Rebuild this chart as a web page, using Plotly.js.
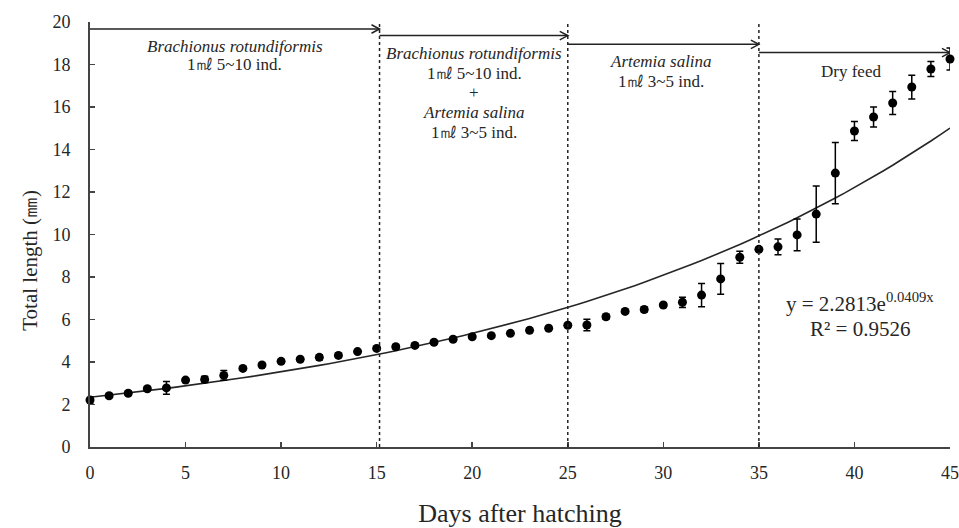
<!DOCTYPE html>
<html>
<head>
<meta charset="utf-8">
<script src="https://cdn.plot.ly/plotly-3.0.1.min.js"></script>
<style>html,body{margin:0;padding:0;background:#fff;}#chart{width:959px;height:528px;}</style>
</head>
<body>
<div id="chart"></div>
<script>
// ---- data ----
const days = [0,1,2,3,4,5,6,7,8,9,10,11,12,13,14,15,16,17,18,19,20,21,22,23,24,25,26,27,28,29,30,31,32,33,34,35,36,37,38,39,40,41,42,43,44,45];
const lengthMean = [2.21,2.41,2.53,2.74,2.78,3.15,3.18,3.37,3.70,3.86,4.03,4.13,4.22,4.31,4.49,4.64,4.72,4.78,4.93,5.07,5.19,5.24,5.35,5.49,5.59,5.73,5.74,6.13,6.38,6.47,6.68,6.81,7.15,7.91,8.93,9.30,9.42,9.98,10.96,12.89,14.87,15.53,16.19,16.94,17.79,18.26];
const lengthSD = [0.15,0.08,0.1,0.08,0.3,0.08,0.15,0.23,0.08,0.08,0.08,0.08,0.12,0.1,0.08,0.08,0.08,0.08,0.08,0.08,0.08,0.08,0.08,0.1,0.08,0.08,0.27,0.12,0.08,0.12,0.08,0.24,0.55,0.72,0.28,0.08,0.37,0.75,1.32,1.44,0.45,0.47,0.54,0.56,0.35,0.52];
// drawn exponential trend line (as it appears in the figure)
const trendA = 2.34, trendB = 0.0413;
const equationText = "y = 2.2813e<sup>0.0409x</sup>";
const r2Text = "R² = 0.9526";
const yTitleText = "Total length (㎜)";
const xTitleText = "Days after hatching";
// feeding periods
const periodBounds = [0, 15.15, 25, 35, 45];
const periodArrowY = [19.67, 19.36, 18.95, 18.56];
const xTicks = [0,5,10,15,20,25,30,35,40,45];
const yTicks = [0,2,4,6,8,10,12,14,16,18,20];

const trendX = [], trendY = [];
for (let i = 0; i <= 90; i++) { const x = i * 0.5; trendX.push(x); trendY.push(trendA * Math.exp(trendB * x)); }

const serif = "'Liberation Serif', 'Times New Roman', serif";
const txt = "#262626";

const traces = [
  {x: trendX, y: trendY, mode: "lines", line: {color: "#262626", width: 1.6}, hoverinfo: "skip", showlegend: false},
  {x: days, y: lengthMean, mode: "markers", marker: {color: "#000", size: 9}, cliponaxis: false,
   error_y: {type: "data", array: lengthSD, visible: true, color: "#000", thickness: 1.5, width: 3.5}, showlegend: false}
];

const shapes = [];
// dashed period separators
for (let i = 1; i <= 3; i++) {
  shapes.push({type: "line", xref: "x", yref: "y", x0: periodBounds[i], x1: periodBounds[i], y0: 0, y1: 20,
    line: {color: "#222", width: 1.5, dash: "dot"}});
}
// arrows
const hdx = 0.42, hdy = 0.2;
for (let i = 0; i < 4; i++) {
  const x0 = periodBounds[i], x1 = periodBounds[i + 1], y = periodArrowY[i];
  shapes.push({type: "line", xref: "x", yref: "y", x0: x0, x1: x1, y0: y, y1: y, line: {color: "#222", width: 1.5}});
  shapes.push({type: "path", xref: "x", yref: "y",
    path: `M ${x1 - hdx},${y + hdy} L ${x1},${y} L ${x1 - hdx},${y - hdy}`, line: {color: "#222", width: 1.5}});
}

function ann(x, y, text, size, italic) {
  return {x: x, y: y, xref: "x", yref: "y", text: italic ? "<i>" + text + "</i>" : text, showarrow: false,
    font: {family: serif, size: size, color: txt}, xanchor: "center", yanchor: "middle"};
}
const annotations = [
  ann(7.57, 18.85, "Brachionus rotundiformis", 17, true),
  ann(7.57, 18.02, "1㎖ 5~10 ind.", 17, false),
  ann(20.1, 18.54, "Brachionus rotundiformis", 17, true),
  ann(20.1, 17.58, "1㎖ 5~10 ind.", 17, false),
  ann(20.1, 16.66, "+", 17, false),
  ann(20.1, 15.72, "Artemia salina", 17, true),
  ann(20.1, 14.82, "1㎖ 3~5 ind.", 17, false),
  ann(29.9, 18.12, "Artemia salina", 17, true),
  ann(29.9, 17.22, "1㎖ 3~5 ind.", 17, false),
  ann(39.83, 17.69, "Dry feed", 17, false),
  ann(40.3, 6.78, equationText, 21, false),
  ann(40.3, 5.55, r2Text, 21, false),
  {xref: "paper", yref: "paper", x: -0.07, y: 0.44, text: yTitleText, textangle: -90, showarrow: false,
   xanchor: "center", yanchor: "middle", font: {family: serif, size: 21, color: txt}}
];

const layout = {
  width: 959, height: 528,
  margin: {l: 90, r: 9, t: 22, b: 81},
  paper_bgcolor: "#fff", plot_bgcolor: "#fff",
  showlegend: false,
  xaxis: {
    range: [0, 45], tickvals: xTicks, ticktext: xTicks.map(String),
    showgrid: false, zeroline: false, showline: true, linecolor: "#444", linewidth: 2,
    ticks: "inside", ticklen: 5, tickcolor: "#444", tickwidth: 1.5,
    ticklabelstandoff: 8,
    tickfont: {family: serif, size: 18, color: txt},
    title: {text: xTitleText, font: {family: serif, size: 26, color: txt}, standoff: 22},
    automargin: false, fixedrange: true
  },
  yaxis: {
    range: [0, 20], tickvals: yTicks, ticktext: yTicks.map(String),
    showgrid: false, zeroline: false, showline: true, linecolor: "#444", linewidth: 2,
    ticks: "inside", ticklen: 5, tickcolor: "#444", tickwidth: 1.5,
    ticklabelstandoff: 14,
    tickfont: {family: serif, size: 18, color: txt},
    automargin: false, fixedrange: true
  },
  shapes: shapes,
  annotations: annotations
};

Plotly.newPlot("chart", traces, layout, {displayModeBar: false, staticPlot: true});
</script>
</body>
</html>
